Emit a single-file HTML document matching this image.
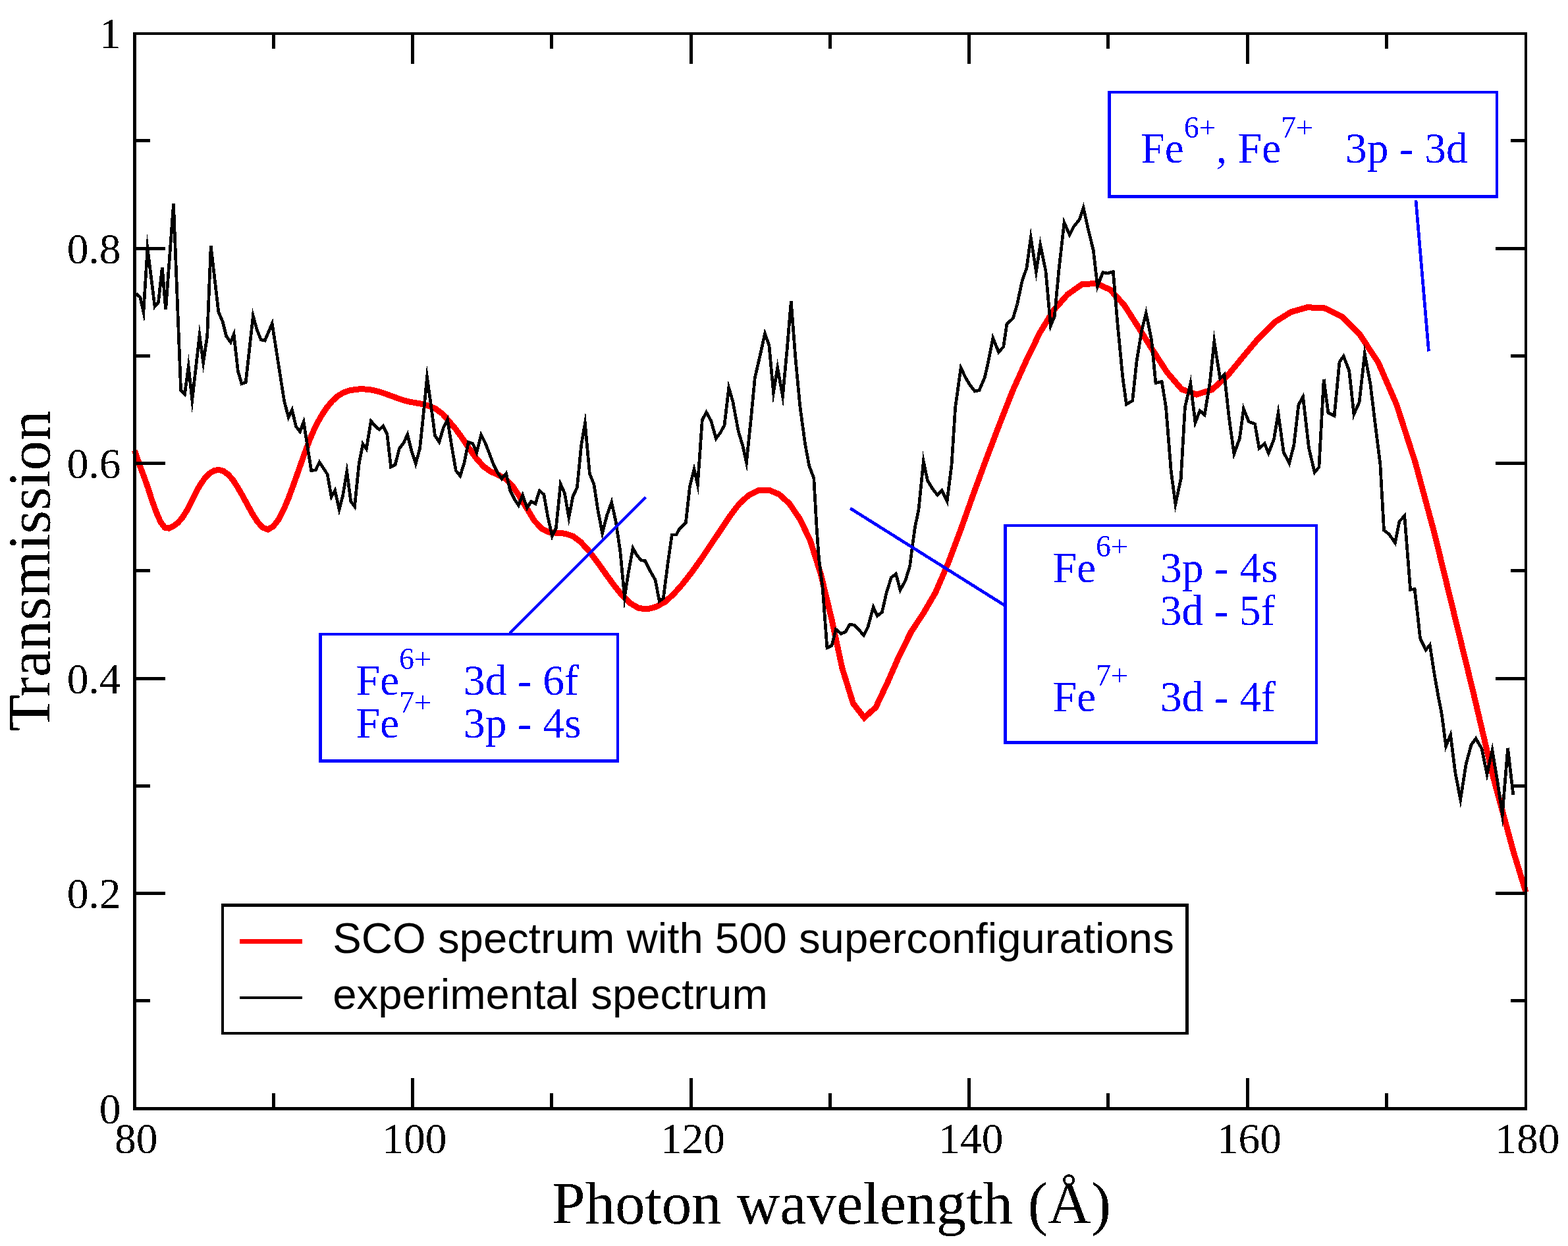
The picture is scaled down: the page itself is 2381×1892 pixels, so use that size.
<!DOCTYPE html>
<html lang="en"><head><meta charset="utf-8"><title>Transmission vs photon wavelength</title>
<style>html,body{margin:0;padding:0;background:#fff}body{width:2381px;height:1892px}svg{display:block}.s{font-family:"Liberation Serif","DejaVu Serif",serif}.h{font-family:"Liberation Sans","DejaVu Sans",sans-serif}.tk{font-size:65.5px;fill:#000}.ax{font-size:91px;fill:#000}.bl{font-size:65.5px;fill:#00f}.lg{font-size:65.3px;fill:#000}</style></head><body>
<svg width="2381" height="1892" viewBox="0 0 2381 1892">
<rect x="0" y="0" width="2381" height="1892" fill="#fff"/>
<defs><filter id="bw" x="0" y="0" width="100%" height="100%" filterUnits="userSpaceOnUse" color-interpolation-filters="sRGB"><feComponentTransfer><feFuncA type="discrete" tableValues="0 1"/></feComponentTransfer></filter></defs>
<clipPath id="cp"><rect x="198.5" y="49.0" width="2124.5" height="1636.5"/></clipPath>
<g clip-path="url(#cp)" fill="none" stroke-linejoin="miter" stroke-miterlimit="10" shape-rendering="crispEdges">
<path d="M204.5,684.0 L205.8,687.9 L212.0,706.0 L218.3,722.8 L224.6,740.5 L230.9,760.1 L237.3,777.7 L243.8,792.6 L250.3,801.2 L256.8,802.2 L263.4,799.0 L270.1,793.8 L276.8,786.3 L283.5,775.6 L290.3,762.3 L297.2,748.2 L304.1,736.0 L311.0,726.2 L318.1,718.8 L325.1,714.7 L332.3,713.2 L339.4,715.5 L346.7,720.7 L354.0,729.1 L361.3,740.6 L368.8,753.6 L376.2,767.3 L383.8,781.0 L391.4,792.8 L399.0,801.1 L406.7,804.0 L414.5,799.9 L422.4,789.7 L430.3,774.8 L438.3,756.0 L446.3,734.3 L454.4,711.5 L462.6,688.2 L470.9,666.3 L479.2,647.2 L487.6,632.0 L496.0,619.2 L504.6,608.9 L513.2,601.2 L521.9,596.0 L530.6,593.0 L539.5,591.4 L548.4,590.7 L557.4,591.2 L566.5,592.4 L575.6,594.8 L584.9,597.8 L594.2,601.2 L603.6,604.7 L613.1,607.8 L622.7,610.2 L632.3,612.0 L642.1,613.7 L651.9,616.6 L661.9,621.0 L671.9,628.4 L682.0,639.8 L692.3,652.0 L702.6,666.2 L713.0,681.9 L723.5,696.3 L734.1,708.1 L744.8,715.9 L755.7,720.6 L766.6,726.2 L777.6,737.0 L788.8,753.8 L800.0,771.9 L811.4,790.7 L822.9,803.0 L834.5,808.4 L846.2,809.3 L858.0,810.2 L870.0,814.1 L882.0,823.2 L894.2,836.6 L906.6,852.8 L919.0,870.3 L931.6,887.6 L944.3,903.8 L957.2,916.1 L970.2,923.6 L983.3,924.9 L996.5,921.3 L1010.0,913.9 L1023.5,901.5 L1037.2,886.0 L1051.1,868.0 L1065.1,848.4 L1079.2,827.3 L1093.6,805.8 L1108.1,784.1 L1122.7,764.8 L1137.5,751.6 L1152.5,744.5 L1167.6,744.1 L1183.0,750.6 L1198.5,764.5 L1214.2,787.5 L1230.0,819.8 L1246.1,870.9 L1262.4,938.1 L1278.8,1014.3 L1295.5,1068.1 L1312.3,1089.7 L1329.8,1074.2 L1347.5,1036.8 L1365.4,996.0 L1383.6,959.3 L1402.0,931.6 L1420.6,899.6 L1439.5,855.8 L1458.6,805.0 L1478.0,750.5 L1497.6,697.2 L1517.5,644.8 L1537.7,593.4 L1558.1,548.2 L1578.9,505.4 L1599.8,471.2 L1621.1,447.2 L1642.7,431.9 L1664.6,430.3 L1685.5,439.8 L1706.7,462.6 L1728.2,496.2 L1750.0,531.1 L1772.1,565.2 L1794.4,591.1 L1817.1,599.0 L1840.1,591.9 L1863.5,571.0 L1887.1,542.3 L1911.1,513.6 L1935.5,489.3 L1960.2,473.8 L1985.2,466.7 L2011.5,468.0 L2038.2,481.0 L2065.2,508.5 L2092.8,550.3 L2120.7,614.4 L2149.1,702.1 L2177.9,808.7 L2207.2,928.7 L2237.0,1050.5 L2267.2,1179.2 L2297.9,1292.3 L2317.0,1354.6" stroke="#f00" stroke-width="9.0" stroke-linejoin="miter" stroke-miterlimit="10"/>
<path d="M206.7,445.8 L212.9,451.4 L217.9,473.9 L224.0,376.7 L235.0,465.5 L240.5,459.2 L246.3,405.8 L251.7,470.3 L263.5,308.9 L274.6,592.8 L280.5,598.5 L286.2,556.6 L291.8,607.5 L303.0,509.3 L308.7,550.4 L314.7,510.4 L320.2,373.5 L331.8,473.7 L338.0,488.1 L343.6,510.4 L350.2,519.8 L355.1,507.8 L361.4,563.8 L367.0,582.8 L373.2,580.5 L384.3,479.7 L390.4,501.5 L396.4,516.0 L402.2,517.1 L413.2,491.3 L431.5,608.4 L438.0,633.6 L443.5,622.3 L449.4,647.3 L455.5,655.5 L461.1,640.7 L472.7,714.7 L479.4,713.6 L485.0,701.9 L497.2,720.3 L503.2,754.4 L508.7,744.8 L515.1,773.5 L520.6,752.6 L526.7,716.2 L532.8,761.5 L538.5,769.2 L545.1,704.7 L551.0,674.1 L556.4,681.7 L563.3,639.3 L569.6,646.8 L575.8,652.4 L581.8,646.8 L587.8,659.1 L593.6,709.2 L600.1,705.8 L606.3,681.3 L613.0,672.4 L618.7,659.8 L625.2,685.8 L631.2,704.1 L637.5,681.3 L642.2,636.8 L648.5,572.8 L654.5,615.7 L660.5,661.3 L667.0,671.1 L673.4,649.1 L679.5,636.9 L685.6,675.8 L692.3,714.7 L698.8,722.8 L705.0,702.5 L711.2,671.3 L717.9,673.5 L723.9,687.1 L730.5,660.4 L736.8,672.4 L742.9,688.0 L749.1,704.7 L755.3,717.0 L761.8,727.0 L768.5,719.0 L774.7,744.8 L780.7,757.0 L787.3,767.3 L793.6,751.7 L800.4,771.4 L806.5,761.5 L813.0,764.8 L819.2,745.3 L825.9,751.0 L831.9,784.9 L838.5,814.1 L844.4,801.6 L851.2,735.1 L857.5,749.2 L863.8,785.9 L870.0,753.7 L876.4,740.3 L882.7,675.8 L888.4,642.6 L895.4,719.2 L902.0,735.9 L908.3,777.1 L914.7,809.6 L921.6,782.6 L928.7,762.6 L935.0,791.5 L941.7,836.1 L948.4,907.1 L953.9,871.7 L961.1,832.2 L966.8,842.7 L973.3,850.5 L979.5,851.7 L986.2,865.0 L995.1,880.6 L1001.2,912.8 L1007.3,908.4 L1014.0,856.1 L1020.3,812.0 L1026.9,812.0 L1031.8,803.1 L1041.4,793.8 L1047.4,739.2 L1054.0,712.9 L1059.4,736.0 L1066.3,637.9 L1072.6,626.0 L1079.7,639.0 L1087.3,665.9 L1093.8,657.1 L1100.0,645.9 L1106.7,588.8 L1112.7,609.2 L1121.2,654.8 L1127.9,677.1 L1133.5,702.3 L1140.6,633.7 L1146.3,573.6 L1154.6,538.0 L1161.5,506.6 L1167.9,524.6 L1174.5,596.0 L1180.7,558.3 L1188.5,601.6 L1195.3,529.1 L1201.3,457.4 L1208.0,544.6 L1214.7,615.9 L1222.5,673.8 L1228.7,707.2 L1235.8,726.1 L1240.3,804.5 L1243.6,849.1 L1249.2,893.6 L1255.9,983.7 L1263.0,980.4 L1269.3,955.7 L1277.0,962.2 L1283.7,959.7 L1290.4,948.1 L1297.1,949.2 L1304.9,957.0 L1311.5,964.8 L1317.8,952.6 L1326.2,921.9 L1332.2,935.2 L1339.4,929.6 L1346.0,900.3 L1353.4,876.9 L1360.5,871.4 L1367.0,895.9 L1375.0,881.3 L1381.7,859.1 L1384.6,835.7 L1389.5,800.1 L1395.0,774.0 L1402.3,700.5 L1408.4,729.4 L1415.7,741.7 L1423.5,751.7 L1430.0,744.6 L1438.2,761.1 L1445.1,704.9 L1450.7,618.1 L1459.1,558.5 L1466.3,573.6 L1472.9,584.7 L1480.3,594.1 L1487.0,592.5 L1495.2,573.6 L1500.8,549.1 L1507.8,513.1 L1516.4,534.5 L1523.7,526.8 L1528.9,492.2 L1538.3,483.2 L1544.5,462.5 L1552.3,425.8 L1559.0,406.9 L1565.3,360.9 L1573.4,412.4 L1579.7,371.5 L1587.9,411.3 L1595.4,494.7 L1601.3,480.4 L1607.9,410.2 L1616.0,338.1 L1624.2,356.6 L1630.6,343.9 L1639.1,333.4 L1645.1,315.3 L1652.9,350.1 L1660.3,380.2 L1666.5,434.7 L1674.7,413.6 L1682.1,415.1 L1690.3,412.4 L1697.0,491.5 L1704.8,572.7 L1710.4,613.9 L1719.7,608.4 L1725.9,549.4 L1733.7,501.5 L1740.3,475.5 L1748.6,516.0 L1754.9,581.7 L1764.2,579.4 L1770.5,618.4 L1778.3,715.9 L1784.9,765.5 L1793.2,727.1 L1799.4,618.4 L1807.8,582.1 L1815.0,641.6 L1822.1,623.5 L1829.2,630.0 L1837.3,580.1 L1843.8,518.6 L1852.7,574.7 L1859.1,568.4 L1866.2,633.5 L1873.9,689.3 L1882.4,665.8 L1888.4,620.7 L1896.3,640.2 L1905.6,643.7 L1912.0,680.8 L1920.3,673.5 L1926.3,688.1 L1934.5,666.9 L1941.0,627.2 L1949.2,686.9 L1957.8,703.4 L1964.8,675.8 L1971.9,614.5 L1978.6,602.4 L1987.5,680.2 L1996.2,717.3 L2002.9,709.4 L2010.2,575.8 L2016.9,626.6 L2026.2,631.5 L2034.0,549.5 L2040.2,540.9 L2048.7,562.9 L2055.9,629.0 L2064.1,610.8 L2072.3,537.4 L2080.8,582.5 L2088.1,642.6 L2095.9,704.9 L2101.5,805.2 L2109.3,811.2 L2118.5,824.3 L2124.9,791.8 L2132.8,783.3 L2137.1,837.9 L2141.6,895.3 L2148.2,894.7 L2152.7,933.6 L2156.5,969.2 L2165.0,986.9 L2171.2,979.5 L2178.3,1024.9 L2185.0,1062.7 L2189.4,1085.0 L2195.6,1133.0 L2202.6,1116.2 L2209.5,1171.3 L2217.7,1214.2 L2226.2,1160.2 L2234.0,1131.2 L2241.1,1121.4 L2250.0,1136.8 L2258.0,1175.5 L2266.0,1139.3 L2274.0,1186.9 L2281.3,1237.0 L2289.6,1135.7 M2289.6,1135.7 L2297.8,1206.9" stroke="#000" stroke-width="4.7" stroke-linejoin="miter" stroke-miterlimit="10.0"/>
<path d="M226.3,376.7 L223.2,353.2 L221.6,376.8 Z" fill="#000" stroke="none"/>
</g>
<g fill="#000" shape-rendering="crispEdges">
<path d="M202,49h5v1637h-5zM2315,49h4v1637h-4zM202,49h2117v4h-2117zM202,1681h2117v5h-2117zM413,1660h5v21h-5zM413,53h5v21h-5zM624,1637h5v44h-5zM624,53h5v44h-5zM835,1660h5v21h-5zM835,53h5v21h-5zM1047,1637h5v44h-5zM1047,53h5v44h-5zM1258,1660h5v21h-5zM1258,53h5v21h-5zM1469,1637h5v44h-5zM1469,53h5v44h-5zM1680,1660h5v21h-5zM1680,53h5v21h-5zM1892,1637h5v44h-5zM1892,53h5v44h-5zM2103,1660h5v21h-5zM2103,53h5v21h-5zM207,1517h21v5h-21zM2294,1517h21v5h-21zM207,1354h44v5h-44zM2271,1354h44v5h-44zM207,1191h21v5h-21zM2294,1191h21v5h-21zM207,1028h44v5h-44zM2271,1028h44v5h-44zM207,864h21v5h-21zM2294,864h21v5h-21zM207,701h44v5h-44zM2271,701h44v5h-44zM207,538h21v5h-21zM2294,538h21v5h-21zM207,375h44v5h-44zM2271,375h44v5h-44zM207,211h21v5h-21zM2294,211h21v5h-21z"/>
</g>
<g filter="url(#bw)">
<g class="s tk" text-anchor="middle">
<text x="206.8" y="1751.3">80</text>
<text x="629.3" y="1751.3">100</text>
<text x="1051.8" y="1751.3">120</text>
<text x="1474.3" y="1751.3">140</text>
<text x="1896.8" y="1751.3">160</text>
<text x="2319.3" y="1751.3">180</text>
</g>
<g class="s tk" text-anchor="end">
<text x="183.5" y="1705.9">0</text>
<text x="183.5" y="1379.4">0.2</text>
<text x="183.5" y="1052.9">0.4</text>
<text x="183.5" y="726.4">0.6</text>
<text x="183.5" y="399.9">0.8</text>
<text x="183.5" y="73.4">1</text>
</g>
<text class="s ax" text-anchor="middle" x="1262.5" y="1857.5">Photon wavelength (Å)</text>
<text class="s ax" text-anchor="middle" transform="translate(75.5,867) rotate(-90)">Transmission</text>
<rect x="336" y="1372" width="1469" height="199" fill="#fff"/>
<path d="M336,1372H1805V1571H336ZM340,1377V1567H1800V1377Z" fill="#000" fill-rule="evenodd" shape-rendering="crispEdges"/>
<path d="M364,1426h95v7h-95z" fill="#f00" shape-rendering="crispEdges"/>
<path d="M364,1513h95v4h-95z" fill="#000" shape-rendering="crispEdges"/>
<text class="h lg" x="505.3" y="1447">SCO spectrum with 500 superconfigurations</text>
<text class="h lg" x="505.3" y="1532.2">experimental spectrum</text>
<path d="M1682,138H2275V301H1682ZM1687,142V296H2271V142Z M484,961H940V1158H484ZM489,965V1153H936V965Z M1524,796H2001V1130H1524ZM1529,800V1125H1997V800Z" fill="#00f" fill-rule="evenodd" shape-rendering="crispEdges"/>
<path d="M2150,304 L2169.5,533.5 M774,961.5 L980.3,755.3 M1291,771.8 L1526,919.5" stroke="#00f" stroke-width="4.7" fill="none" shape-rendering="crispEdges"/>
<g class="s bl" style="white-space:pre">
<text x="1732.3" y="247.3">Fe<tspan dy="-38.7" font-size="46">6+</tspan><tspan dy="38.7">, Fe</tspan><tspan dy="-38.7" font-size="46">7+</tspan><tspan dy="38.7">   3p - 3d</tspan></text>
<text x="540.5" y="1054.9">Fe<tspan dy="-38.7" font-size="46">6+</tspan><tspan dy="38.7">   3d - 6f</tspan></text>
<text x="540.5" y="1120.2">Fe<tspan dy="-38.7" font-size="46">7+</tspan><tspan dy="38.7">   3p - 4s</tspan></text>
<text x="1598.5" y="884">Fe<tspan dy="-38.7" font-size="46">6+</tspan><tspan dy="38.7">   3p - 4s</tspan></text>
<text x="1761.8" y="949.1">3d - 5f</text>
<text x="1598.5" y="1080.1">Fe<tspan dy="-38.7" font-size="46">7+</tspan><tspan dy="38.7">   3d - 4f</tspan></text>
</g>
</g>
</svg></body></html>
